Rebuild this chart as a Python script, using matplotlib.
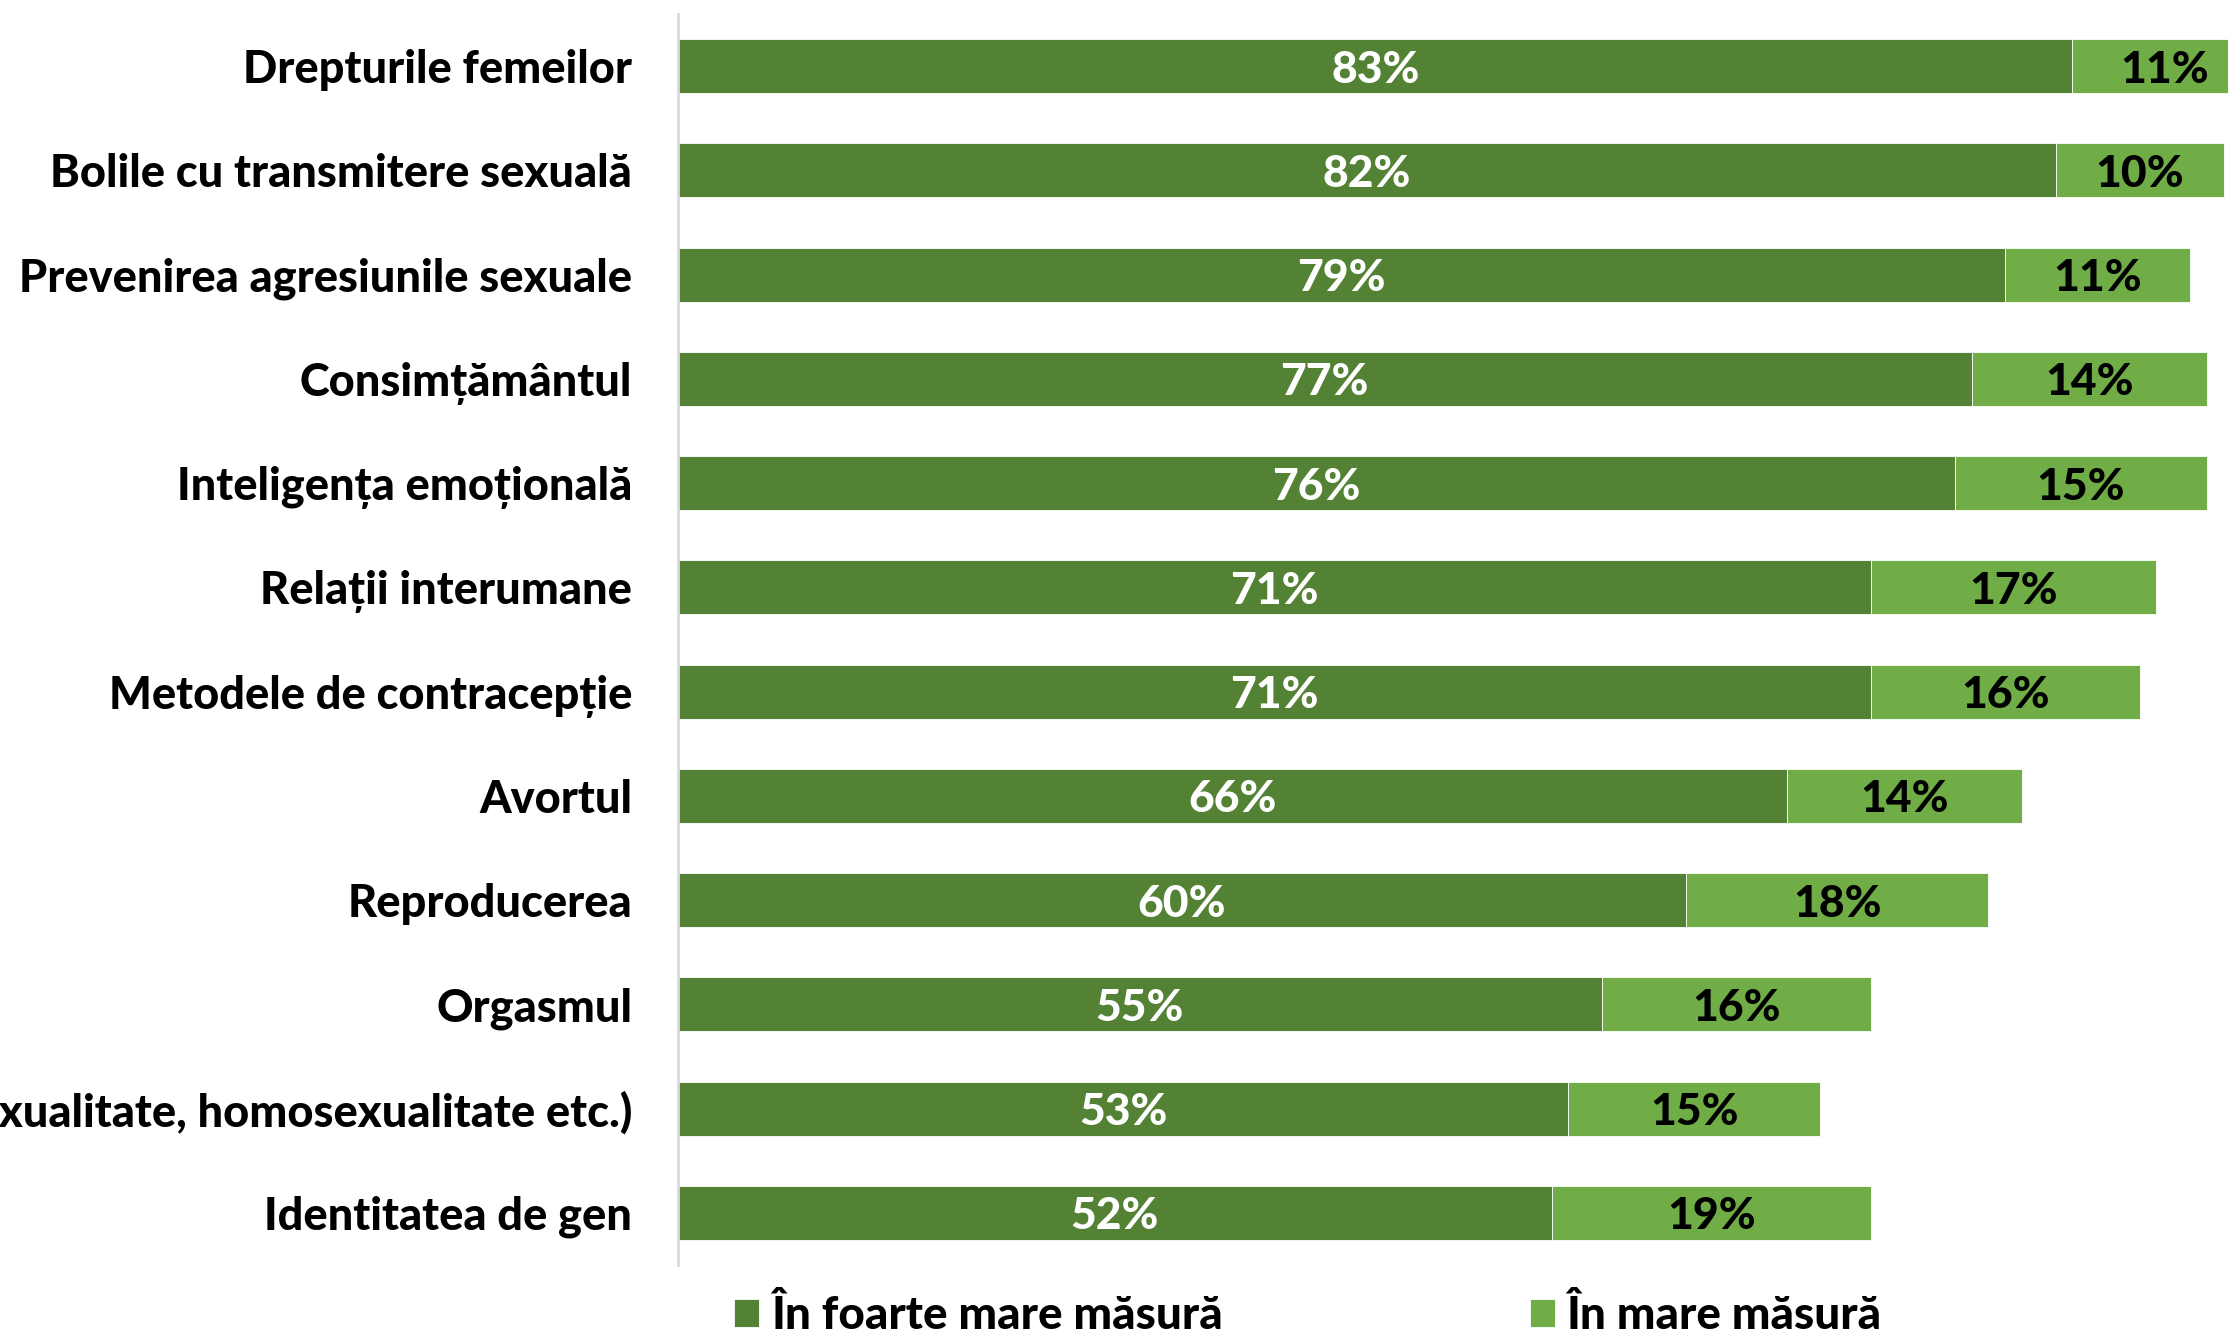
import matplotlib
matplotlib.use("Agg")
import matplotlib.pyplot as plt
import numpy as np

categories = [
    "Drepturile femeilor",
    "Bolile cu transmitere sexuală",
    "Prevenirea agresiunile sexuale",
    "Consimțământul",
    "Inteligența emoțională",
    "Relații interumane",
    "Metodele de contracepție",
    "Avortul",
    "Reproducerea",
    "Orgasmul",
    "Orientarea sexuală (heterosexualitate, bisexualitate, homosexualitate etc.)",
    "Identitatea de gen",
]
foarte_mare = [83, 82, 79, 77, 76, 71, 71, 66, 60, 55, 53, 52]
mare = [11, 10, 11, 14, 15, 17, 16, 14, 18, 16, 15, 19]
series_names = ["În foarte mare măsură", "În mare măsură"]

DARK = "#548235"
LIGHT = "#70AD47"

plt.rcParams['font.family'] = ['Lato', 'DejaVu Sans']
FS = 32
WEIGHT = "black"

W, H = 2228, 1330
fig = plt.figure(figsize=(W / 100, H / 100), dpi=100)
# axes deliberately runs past the right edge, like the cropped original
ax = fig.add_axes([678 / W, 1 - 1265 / H, 1680 / W, 1251 / H])

y = np.arange(len(categories))
b1 = ax.barh(y, foarte_mare, height=0.52, color=DARK, edgecolor="white",
             linewidth=0.6, label=series_names[0])
b2 = ax.barh(y, mare, left=foarte_mare, height=0.52, color=LIGHT,
             edgecolor="white", linewidth=0.6, label=series_names[1])

for yi, a, b in zip(y, foarte_mare, mare):
    ax.text(a / 2, yi, f"{a}%", ha="center", va="center_baseline",
            color="white", fontsize=FS, fontweight=WEIGHT)
    ax.text(a + b / 2, yi, f"{b}%", ha="center", va="center_baseline",
            color="black", fontsize=FS, fontweight=WEIGHT)

ax.set_xlim(0, 100)
ax.set_ylim(len(categories) - 0.5, -0.5)
ax.set_yticks(y)
ax.set_yticklabels(categories, fontsize=32.5, fontweight=WEIGHT)
ax.tick_params(axis="y", length=0, pad=33)
ax.set_xticks([])
for side in ["top", "right", "bottom"]:
    ax.spines[side].set_visible(False)
ax.spines["left"].set_color("#d9d9d9")
ax.spines["left"].set_linewidth(2)

fig.legend(handles=[b1, b2], labels=series_names, loc="center left",
           bbox_to_anchor=(693 / W, 1 - 1316 / H), ncol=2, frameon=False,
           prop={"weight": WEIGHT, "size": FS + 1},
           handlelength=0.55, handleheight=0.55, handletextpad=0.25,
           columnspacing=6.7)

fig.savefig("out.png", dpi=100)
